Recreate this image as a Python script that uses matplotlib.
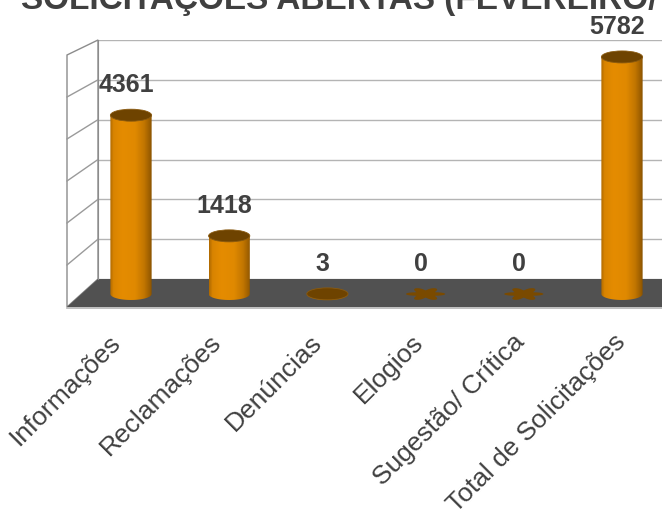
# -*- coding: utf-8 -*-
"""solicitacoes_fev.py : grafico de cilindros das solicitacoes abertas"""
import numpy as np
import matplotlib
matplotlib.use("Agg")
import matplotlib.pyplot as plt
from matplotlib.path import Path
from matplotlib.patches import PathPatch, Polygon, Ellipse
from matplotlib.colors import LinearSegmentedColormap

plt.rcParams['font.family'] = ['Liberation Sans', 'DejaVu Sans']

titulo = "SOLICITAÇÕES ABERTAS (FEVEREIRO/"
categorias = ["Informações", "Reclamações", "Denúncias", "Elogios",
              "Sugestão/ Crítica", "Total de Solicitações"]
valores = [4361, 1418, 3, 0, 0, 5782]
grade = [0, 1000, 2000, 3000, 4000, 5000, 6000]

W, H = 662, 512
texto = "#404040"

def caixa(x0, y0, x1, y1):
    # pixels (origem no topo) -> fracao da figura
    return [x0 / W, 1 - y1 / H, (x1 - x0) / W, (y1 - y0) / H]

fig = plt.figure(figsize=(W / 100, H / 100), dpi=100)

# fundo: parede lateral e piso
bg = fig.add_axes([0, 0, 1, 1])
bg.set_xlim(0, W)
bg.set_ylim(H, 0)
bg.axis("off")
frente = (67, 55, 307)   # x, topo, base da aresta da frente
fundo = (98, 40, 279)    # x, topo, base da aresta do fundo
bg.add_patch(Polygon([(frente[0], frente[1]), (fundo[0], fundo[1]),
                      (fundo[0], fundo[2]), (frente[0], frente[2])],
                     closed=True, facecolor="white", edgecolor="#8c8c8c", lw=1))
for g in grade[1:-1]:
    t = g / grade[-1]
    yf = frente[2] - t * (frente[2] - frente[1])
    yb = fundo[2] - t * (fundo[2] - fundo[1])
    bg.plot([frente[0], fundo[0]], [yf, yb], color="#9a9a9a", lw=1)
bg.add_patch(Polygon([(fundo[0], fundo[2]), (W, fundo[2]), (W, frente[2]),
                      (frente[0], frente[2])], closed=True,
                     facecolor="#515151", edgecolor="none"))
bg.plot([frente[0], W], [frente[2] + 0.5, frente[2] + 0.5], color="#b4b4b4", lw=1.2)

bg.text(21, 9, titulo, fontsize=24, fontweight="bold", color=texto,
        ha="left", va="baseline")

# parede do fundo com as linhas de grade
wall = fig.add_axes(caixa(fundo[0], fundo[1], W, fundo[2]))
wall.set_facecolor("none")
wall.set_ylim(grade[0], grade[-1])
wall.set_xlim(0, 1)
wall.set_yticks(grade)
wall.set_xticks([])
wall.tick_params(length=0, labelleft=False)
wall.yaxis.grid(True, color="#b4b4b4", lw=1)
for s in ["top", "right", "bottom"]:
    wall.spines[s].set_visible(False)
wall.spines["left"].set_color("#8c8c8c")

# cilindros
ppu = 0.041          # pixels por unidade
base_px = 294
centro0, passo = 131, 98.2
ax = fig.add_axes(caixa(frente[0], 0, W, 310))
ax.set_facecolor("none")
ax.set_xlim((frente[0] - centro0) / passo, (W - centro0) / passo)
ax.set_ylim(-(310 - base_px) / ppu, base_px / ppu)
for s in ax.spines.values():
    s.set_visible(False)
ax.set_yticks([])

larg = 0.42
alt_el = 12 / ppu
cmap = LinearSegmentedColormap.from_list("cil", [
    (0.0, "#b06a00"), (0.08, "#d98400"), (0.3, "#e58c00"), (0.6, "#e08900"),
    (0.82, "#c27600"), (0.95, "#9c5e00"), (1.0, "#8a5300")])
grad = np.linspace(0, 1, 64).reshape(1, -1)

for i, v in enumerate(valores):
    x0, x1 = i - larg / 2, i + larg / 2
    if v > 0:
        th = np.linspace(np.pi, 2 * np.pi, 40)
        arco = np.column_stack([i + larg / 2 * np.cos(th), alt_el / 2 * np.sin(th)])
        verts = np.vstack([[[x0, v]], arco, [[x1, v]], [[x0, v]]])
        corpo = PathPatch(Path(verts), facecolor="none", edgecolor="none")
        ax.add_patch(corpo)
        im = ax.imshow(grad, cmap=cmap, aspect="auto", interpolation="bilinear",
                       extent=(x0, x1, -alt_el / 2, v), zorder=2)
        im.set_clip_path(corpo)
        ax.add_patch(Ellipse((i, v), larg, alt_el, facecolor="#6e4300",
                             edgecolor="#8a5a10", lw=0.6, zorder=3))
    else:
        # cilindro de altura zero: so a mancha achatada
        th = np.linspace(0, 2 * np.pi, 240)
        r = 0.55 + 0.45 * np.abs(np.cos(3 * th)) ** 1.5
        pts = np.column_stack([i + larg / 2 * 0.95 * r * np.cos(th),
                               v + alt_el / 2 * 1.1 * r * np.sin(th)])
        ax.add_patch(Polygon(pts, closed=True, facecolor="#7a4a00",
                             edgecolor="none", zorder=3))
    ax.annotate(str(v), (i, v), xytext=(-5, 23), textcoords="offset pixels",
                ha="center", va="baseline", fontsize=18, fontweight="bold",
                color=texto)

# rotulos inclinados, espacados um pouco mais que as barras
pos_rot = [(108 + 101 * k - centro0) / passo for k in range(len(categorias))]
ax.set_xticks(pos_rot)
ax.set_xticklabels(categorias, rotation=45, ha="right", rotation_mode="anchor",
                   fontsize=19, color=texto)
ax.tick_params(axis="x", length=0, pad=14.5)

fig.savefig("out.png", dpi=100)
